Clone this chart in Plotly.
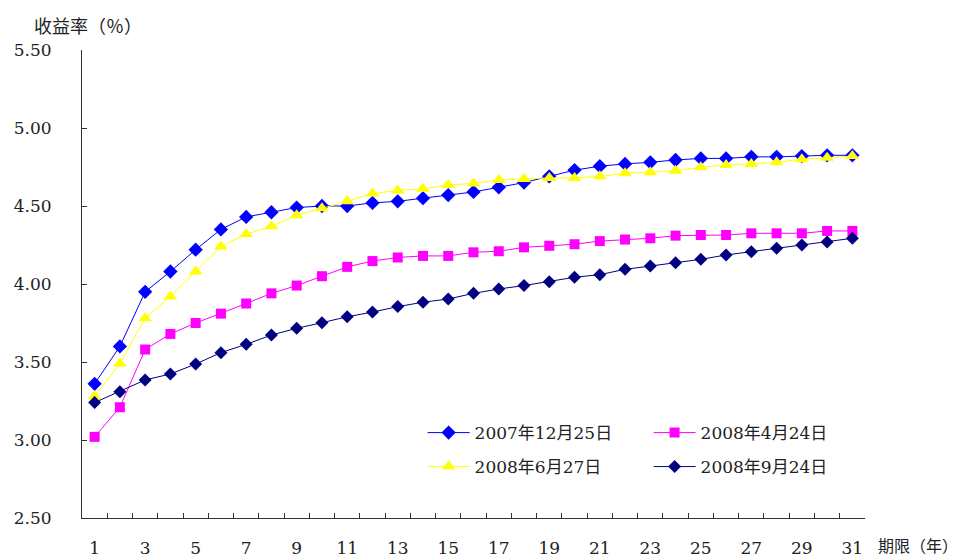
import plotly.graph_objects as go

years = list(range(1, 32))
x_labels = [str(y) if y % 2 == 1 else "" for y in years]

s_20071225 = [3.36, 3.60, 3.95, 4.08, 4.22, 4.35, 4.43, 4.46, 4.49, 4.50,
              4.50, 4.52, 4.53, 4.55, 4.57, 4.59, 4.62, 4.65, 4.69, 4.73,
              4.755, 4.77, 4.78, 4.795, 4.805, 4.805, 4.815, 4.815, 4.82, 4.825, 4.825]
s_20080424 = [3.02, 3.21, 3.58, 3.68, 3.75, 3.81, 3.875, 3.94, 3.99, 4.05,
              4.11, 4.147, 4.17, 4.18, 4.18, 4.203, 4.21, 4.235, 4.245, 4.255,
              4.275, 4.285, 4.293, 4.31, 4.314, 4.314, 4.325, 4.325, 4.325, 4.34, 4.34]
s_20080627 = [3.28, 3.49, 3.78, 3.92, 4.08, 4.24, 4.32, 4.37, 4.44, 4.485,
              4.53, 4.58, 4.60, 4.61, 4.635, 4.645, 4.667, 4.673, 4.68, 4.68,
              4.69, 4.71, 4.716, 4.726, 4.748, 4.763, 4.77, 4.78, 4.80, 4.81, 4.82]
s_20080924 = [3.24, 3.31, 3.385, 3.423, 3.487, 3.56, 3.613, 3.673, 3.716, 3.752,
              3.79, 3.82, 3.855, 3.883, 3.904, 3.94, 3.968, 3.99, 4.015, 4.043,
              4.06, 4.094, 4.115, 4.136, 4.158, 4.186, 4.207, 4.229, 4.25, 4.269, 4.293]

series = [
    ("2007年12月25日", s_20071225, "#0000FF", "diamond", 11, "legend"),
    ("2008年4月24日", s_20080424, "#FF00FF", "square", 10, "legend"),
    ("2008年6月27日", s_20080627, "#FFFF00", "triangle-up", 12, "legend2"),
    ("2008年9月24日", s_20080924, "#000080", "diamond", 10, "legend2"),
]

cats = [str(y) for y in years]
font_main = "DejaVu Serif, Liberation Serif, Noto Sans CJK SC, serif"
txt_color = "#222"

fig = go.Figure()
for name, vals, color, sym, size, leg in series:
    fig.add_trace(go.Scatter(
        x=cats, y=vals, name=name, mode="lines+markers",
        line=dict(color=color, width=1),
        marker=dict(symbol=sym, size=size, color=color, line=dict(width=0)),
        legend=leg,
    ))

leg_common = dict(
    orientation="h", xanchor="left", yanchor="top",
    entrywidth=169, itemwidth=42, bgcolor="rgba(0,0,0,0)",
    font=dict(family=font_main, size=17, color=txt_color),
    itemsizing="trace",
)

fig.update_layout(
    width=959, height=549,
    margin=dict(l=74, r=102, t=42, b=39, autoexpand=False),
    plot_bgcolor="white", paper_bgcolor="white",
    font=dict(family=font_main, size=17, color=txt_color),
    showlegend=True,
    legend=dict(x=0.435, y=0.22, **leg_common),
    legend2=dict(x=0.435, y=0.1474, **leg_common),
    xaxis=dict(
        type="category", tickmode="array", tickvals=cats, ticktext=x_labels,
        range=[-0.5, len(cats) - 0.5],
        tickson="boundaries", ticks="inside", ticklen=5, tickcolor="#333",
        showline=True, linecolor="#333", linewidth=1, showgrid=False,
        zeroline=False, ticklabelstandoff=15, tickangle=0, automargin=False,
        tickfont=dict(family=font_main, size=17, color=txt_color),
    ),
    yaxis=dict(
        range=[2.5, 5.5], tick0=2.5, dtick=0.5, tickformat=".2f",
        ticks="inside", ticklen=5, tickcolor="#333",
        showline=True, linecolor="#333", linewidth=1, showgrid=False,
        zeroline=False, ticklabelstandoff=26, automargin=False,
        tickfont=dict(family=font_main, size=17, color=txt_color),
    ),
    annotations=[
        dict(text="收益率（％）", xref="paper", yref="paper", x=-0.064, y=1.0534,
             xanchor="left", yanchor="middle", showarrow=False,
             font=dict(family="Noto Sans CJK SC", size=18, color=txt_color)),
        dict(text="期限（年）", xref="paper", yref="paper", x=1.0140, y=-0.058,
             xanchor="left", yanchor="middle", showarrow=False,
             font=dict(family="Noto Sans CJK SC", size=16, color=txt_color)),
    ],
)

fig.write_html("out.html")
